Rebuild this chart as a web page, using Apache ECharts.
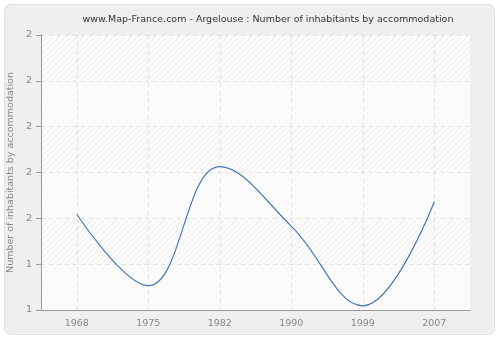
<!DOCTYPE html>
<html>
<head>
<meta charset="utf-8">
<script src="https://cdn.jsdelivr.net/npm/echarts@6/dist/echarts.min.js"></script>
<style>html,body{margin:0;padding:0;background:#fff;}#c{width:500px;height:340px;}</style>
</head>
<body>
<div id="c"></div>
<script>
var years = ['1968', '1975', '1982', '1990', '1999', '2007'];
var values = [1.509, 1.353, 1.613, 1.483, 1.309, 1.536];
var yTicks = [1.3, 1.4, 1.5, 1.6, 1.7, 1.8, 1.9];
var yTickLabels = ['1', '1', '2', '2', '2', '2', '2'];
var titleText = 'www.Map-France.com - Argelouse : Number of inhabitants by accommodation';
var yAxisName = 'Number of inhabitants by accommodation';

function hatch() {
  var cv = document.createElement('canvas');
  cv.width = 6; cv.height = 6;
  var g = cv.getContext('2d');
  g.fillStyle = '#fbfbfb';
  g.fillRect(0, 0, 6, 6);
  g.strokeStyle = '#ececec';
  g.lineWidth = 1;
  g.beginPath();
  g.moveTo(0, 6); g.lineTo(6, 0);
  g.moveTo(-1, 1); g.lineTo(1, -1);
  g.moveTo(5, 7); g.lineTo(7, 5);
  g.stroke();
  return {image: cv, repeat: 'repeat'};
}
var hatchPat = hatch();
var font = 'DejaVu Sans';

var chart = echarts.init(document.getElementById('c'), null, {renderer: 'canvas'});
chart.setOption({
  animation: false,
  backgroundColor: '#ffffff',
  graphic: [{
    type: 'rect', z: -10, silent: true,
    shape: {x: 4.5, y: 4.5, width: 490, height: 330, r: 6},
    style: {fill: '#efefef', stroke: '#e2e2e2', lineWidth: 1}
  }],
  title: {
    text: titleText, left: 263, top: 10, textAlign: 'center',
    textStyle: {fontFamily: font, fontSize: 9.5, fontWeight: 'normal', color: '#333'}
  },
  grid: {left: 41, right: 30, top: 35, bottom: 30, show: true, backgroundColor: hatchPat, borderWidth: 0,
         containLabel: false, outerBoundsMode: 'none'},
  xAxis: {
    type: 'category', data: years, boundaryGap: true,
    axisLine: {lineStyle: {color: '#999'}},
    axisTick: {alignWithLabel: true, length: 5, lineStyle: {color: '#999'}},
    axisLabel: {color: '#888', fontFamily: font, fontSize: 9.5, margin: 9},
    splitLine: {show: true, alignWithLabel: true, lineStyle: {color: '#e2e2e2', type: [4, 4]}}
  },
  yAxis: {
    type: 'value', min: yTicks[0], max: yTicks[yTicks.length - 1], interval: 0.1,
    name: yAxisName, nameLocation: 'middle', nameGap: 23, nameRotate: 90,
    nameTextStyle: {color: '#888', fontFamily: font, fontSize: 9.5},
    axisLine: {show: true, lineStyle: {color: '#999'}},
    axisTick: {show: true, length: 5, lineStyle: {color: '#999'}},
    axisLabel: {
      color: '#888', fontFamily: font, fontSize: 9.5, margin: 9,
      formatter: function (v) {
        for (var i = 0; i < yTicks.length; i++) {
          if (Math.abs(yTicks[i] - v) < 1e-6) return yTickLabels[i];
        }
        return '';
      }
    },
    splitLine: {show: true, lineStyle: {color: '#e2e2e2', type: [4, 4]}},
    splitArea: {show: true, areaStyle: {color: ['rgba(250,250,250,0.85)', 'rgba(255,255,255,0)']}}
  },
  series: [{
    type: 'line', data: values, smooth: 0.4, symbol: 'none',
    lineStyle: {color: '#4a78b0', width: 1.2}
  }]
});
</script>
</body>
</html>
